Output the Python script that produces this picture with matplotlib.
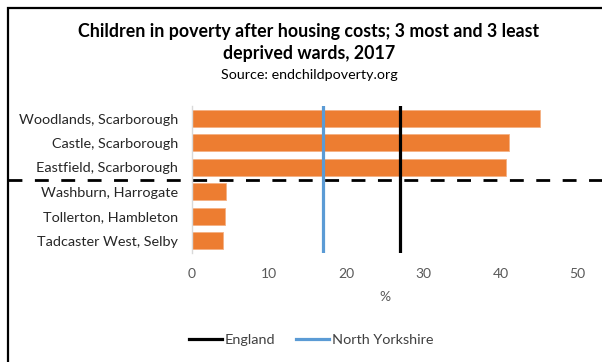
import matplotlib
matplotlib.use("Agg")
import matplotlib.pyplot as plt
from matplotlib.patches import Rectangle
from matplotlib.lines import Line2D
import matplotlib.transforms as mtransforms

plt.rcParams['font.family'] = ['Lato', 'DejaVu Sans']

# Ward-level child poverty rates (after housing costs), 2017
wards = ["Woodlands, Scarborough", "Castle, Scarborough", "Eastfield, Scarborough",
         "Washburn, Harrogate", "Tollerton, Hambleton", "Tadcaster West, Selby"]
poverty_pct = [45.1, 41.1, 40.7, 4.5, 4.3, 4.0]

# Reference averages
england_pct = 27
north_yorkshire_pct = 17

x_ticks = [0, 10, 20, 30, 40, 50]

ORANGE = "#ED7D31"
BLUE = "#5B9BD5"
GREY_TXT = "#595959"

fig = plt.figure(figsize=(6.02, 3.62), dpi=100)
W, H = 602, 362

# Outer frame of the chart area
fig.patches.append(Rectangle((8 / W, -0.1), 1.2, 1 - 8 / H + 0.1, transform=fig.transFigure,
                             fill=False, edgecolor="black", linewidth=1.6))

ax = fig.add_axes([191.7 / W, 1 - 252.7 / H, (577.7 - 191.7) / W, (252.7 - 106.3) / H])

y = list(range(len(wards)))
ax.barh(y, poverty_pct, height=0.7, color=ORANGE, edgecolor="#F4B183", linewidth=0.6, zorder=2)
ax.set_ylim(len(wards) - 0.5, -0.5)
ax.set_xlim(0, 50)
ax.set_yticks(y)
ax.set_yticklabels(wards, fontsize=10.4, color="#262626")
ax.set_xticks(x_ticks)
ax.set_xticklabels([str(t) for t in x_ticks], fontsize=10, color=GREY_TXT)
ax.tick_params(axis="both", length=0)
ax.tick_params(axis="x", pad=11)
ax.tick_params(axis="y", pad=10)
for s in ["top", "right", "bottom"]:
    ax.spines[s].set_visible(False)
ax.spines["left"].set_color("#D9D9D9")
ax.spines["left"].set_linewidth(1.0)

ax.set_xlabel("%", fontsize=10, color=GREY_TXT, labelpad=8)

# Average reference lines
ax.axvline(england_pct, color="black", linewidth=2.3, zorder=3)
ax.axvline(north_yorkshire_pct, color=BLUE, linewidth=2.3, zorder=3)

# Divider between most and least deprived wards, across the whole frame
blend = mtransforms.blended_transform_factory(fig.transFigure, ax.transData)
ax.add_line(Line2D([8 / W, 1.0], [2.5, 2.5], transform=blend, color="black",
                   linewidth=2.0, linestyle=(0, (5, 4.5)), clip_on=False, zorder=4))

# Titles
fig.text(309 / W, 1 - 32 / H, "Children in poverty after housing costs; 3 most and 3 least",
         ha="center", va="center", fontsize=12.8, fontweight="bold", color="black")
fig.text(309 / W, 1 - 54 / H, "deprived wards, 2017",
         ha="center", va="center", fontsize=12.8, fontweight="bold", color="black")
fig.text(309 / W, 1 - 75 / H, "Source: endchildpoverty.org",
         ha="center", va="center", fontsize=10.3, color="black")

# Legend
handles = [Line2D([], [], color="black", linewidth=2.3),
           Line2D([], [], color=BLUE, linewidth=2.3)]
fig.legend(handles, ["England", "North Yorkshire"], loc="center",
           bbox_to_anchor=(311 / W, 1 - 340 / H), ncol=2, frameon=False,
           fontsize=10.4, handlelength=2.3, handletextpad=0.2, columnspacing=1.4,
           labelcolor="#404040")

fig.savefig("out.png", dpi=100)
